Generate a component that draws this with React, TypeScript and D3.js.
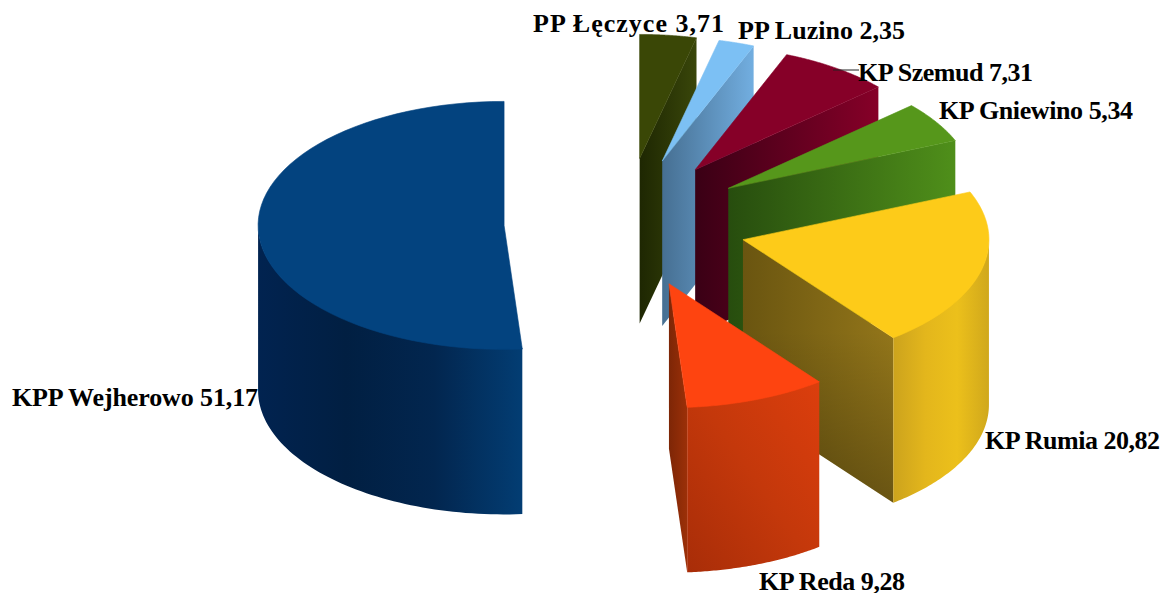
import React from "react";
import * as d3 from "d3";

// ---- data (clockwise from 12 o'clock) ----
const categories = ["PP Łęczyce", "PP Luzino", "KP Szemud", "KP Gniewino", "KP Rumia", "KP Reda", "KPP Wejherowo"];
const values = [3.71, 2.35, 7.31, 5.34, 20.82, 9.28, 51.17];
const valueLabels = ["3,71", "2,35", "7,31", "5,34", "20,82", "9,28", "51,17"];

// ---- styles, separate from the data ----
const topColors = ["#3a4706", "#7cc0f4", "#860028", "#56971b", "#fdcb19", "#fe4410", "#03437f"];
const cutStops = [
  ["#1e2702", "#39460a"],
  ["#466f92", "#72aee0"],
  ["#3a0015", "#860028"],
  ["#274d0e", "#4f8f1a"],
  ["#6a5510", "#93761a"],
  ["#7d2606", "#9c3008"],
  ["#02264f", "#02264f"],
];
const cutShade = [0, 0, 0, 0, 0.28, 0, 0];
const wallStops = [
  ["#1e2702", "#39460a"],
  ["#466f92", "#72aee0"],
  ["#3a0015", "#860028"],
  ["#274d0e", "#4f8f1a"],
  ["#cca31d", "#e3b61c", "#ecc01b", "#d0a81c"],
  ["#a82d08", "#c4380b", "#dc3e0d"],
  ["#012350", "#011f42", "#02264f", "#033d73"],
];
// label placement: x, baseline y, fitted width
const labelX = [533, 738, 858, 939, 985, 759, 12];
const labelY = [32, 39, 81, 119, 449, 590, 406];
const labelW = [191, 167, 175, 194, 175, 146, 246];

// ---- layout ----
const W = 1168, H = 593;
const cx = 625.5, cy = 223;
const rx = 246, ry = 124;
const explodeX = 121.5, explodeY = 65;
const depth = 165;

const pie = d3.pie<number>().sort(null).startAngle(0).endAngle(2 * Math.PI);
const arcs = pie(values);
const lineGen = d3.line<[number, number]>().curve(d3.curveLinear);

function Slice({ i }: { i: number }) {
  const a = arcs[i];
  const mid = (a.startAngle + a.endAngle) / 2;
  const ax = cx + explodeX * Math.sin(mid);
  const ay = cy - explodeY * Math.cos(mid);
  const pt = (t: number, dz = 0): [number, number] => [ax + rx * Math.sin(t), ay - ry * Math.cos(t) + dz];
  const samples = (t0: number, t1: number) =>
    d3.range(0, 65).map((k) => t0 + ((t1 - t0) * k) / 64);

  const top = lineGen([[ax, ay], ...samples(a.startAngle, a.endAngle).map((t) => pt(t))]) + "Z";
  const cut = lineGen([[ax, ay], pt(a.endAngle), pt(a.endAngle, depth), [ax, ay + depth]]) + "Z";
  const w0 = Math.max(a.startAngle, Math.PI / 2);
  const w1 = Math.min(a.endAngle, (3 * Math.PI) / 2);
  const wall =
    w1 > w0
      ? lineGen([
          ...samples(w0, w1).map((t) => pt(t, -1)),
          ...samples(w1, w0).map((t) => pt(t, depth)),
        ]) + "Z"
      : null;
  return (
    <g>
      <path d={cut} fill={`url(#cut${i})`} />
      {cutShade[i] > 0 && <path d={cut} fill={`url(#shade${i})`} />}
      {wall && <path d={wall} fill={`url(#wall${i})`} />}
      <path d={top} fill={topColors[i]} stroke={topColors[i]} strokeWidth={0.6} />
    </g>
  );
}

export default function App() {
  const order = [6, 0, 1, 2, 3, 4, 5];
  return (
    <svg
      width={W}
      height={H}
      viewBox={`0 0 ${W} ${H}`}
      style={{ position: "absolute", left: 0, top: 0, display: "block", background: "#fff" }}
    >
      <defs>
        {cutStops.map((s, i) => (
          <linearGradient key={i} id={`cut${i}`} x1="0" y1="0" x2="1" y2="0">
            {s.map((c, k) => (
              <stop key={k} offset={k / (s.length - 1)} stopColor={c} />
            ))}
          </linearGradient>
        ))}
        {cutShade.map((o, i) =>
          o > 0 ? (
            <linearGradient key={i} id={`shade${i}`} x1="0" y1="0" x2="0" y2="1">
              <stop offset={0.35} stopColor="#000" stopOpacity={0} />
              <stop offset={1} stopColor="#000" stopOpacity={o} />
            </linearGradient>
          ) : null
        )}
        {wallStops.map((s, i) => (
          <linearGradient key={i} id={`wall${i}`} x1="0" y1={i === 5 ? "1" : "0"} x2="1" y2="0">
            {s.map((c, k) => (
              <stop key={k} offset={k / (s.length - 1)} stopColor={c} />
            ))}
          </linearGradient>
        ))}
      </defs>
      {order.map((i) => (
        <Slice key={i} i={i} />
      ))}
      <line x1={833} y1={70} x2={859} y2={70} stroke="#222" strokeWidth={1} />
      {categories.map((c, i) => (
        <text
          key={c}
          x={labelX[i]}
          y={labelY[i]}
          textLength={labelW[i]}
          lengthAdjust="spacing"
          fontFamily="'Liberation Serif', serif"
          fontWeight="bold"
          fontSize={26}
          fill="#000"
        >
          {`${c} ${valueLabels[i]}`}
        </text>
      ))}
    </svg>
  );
}
